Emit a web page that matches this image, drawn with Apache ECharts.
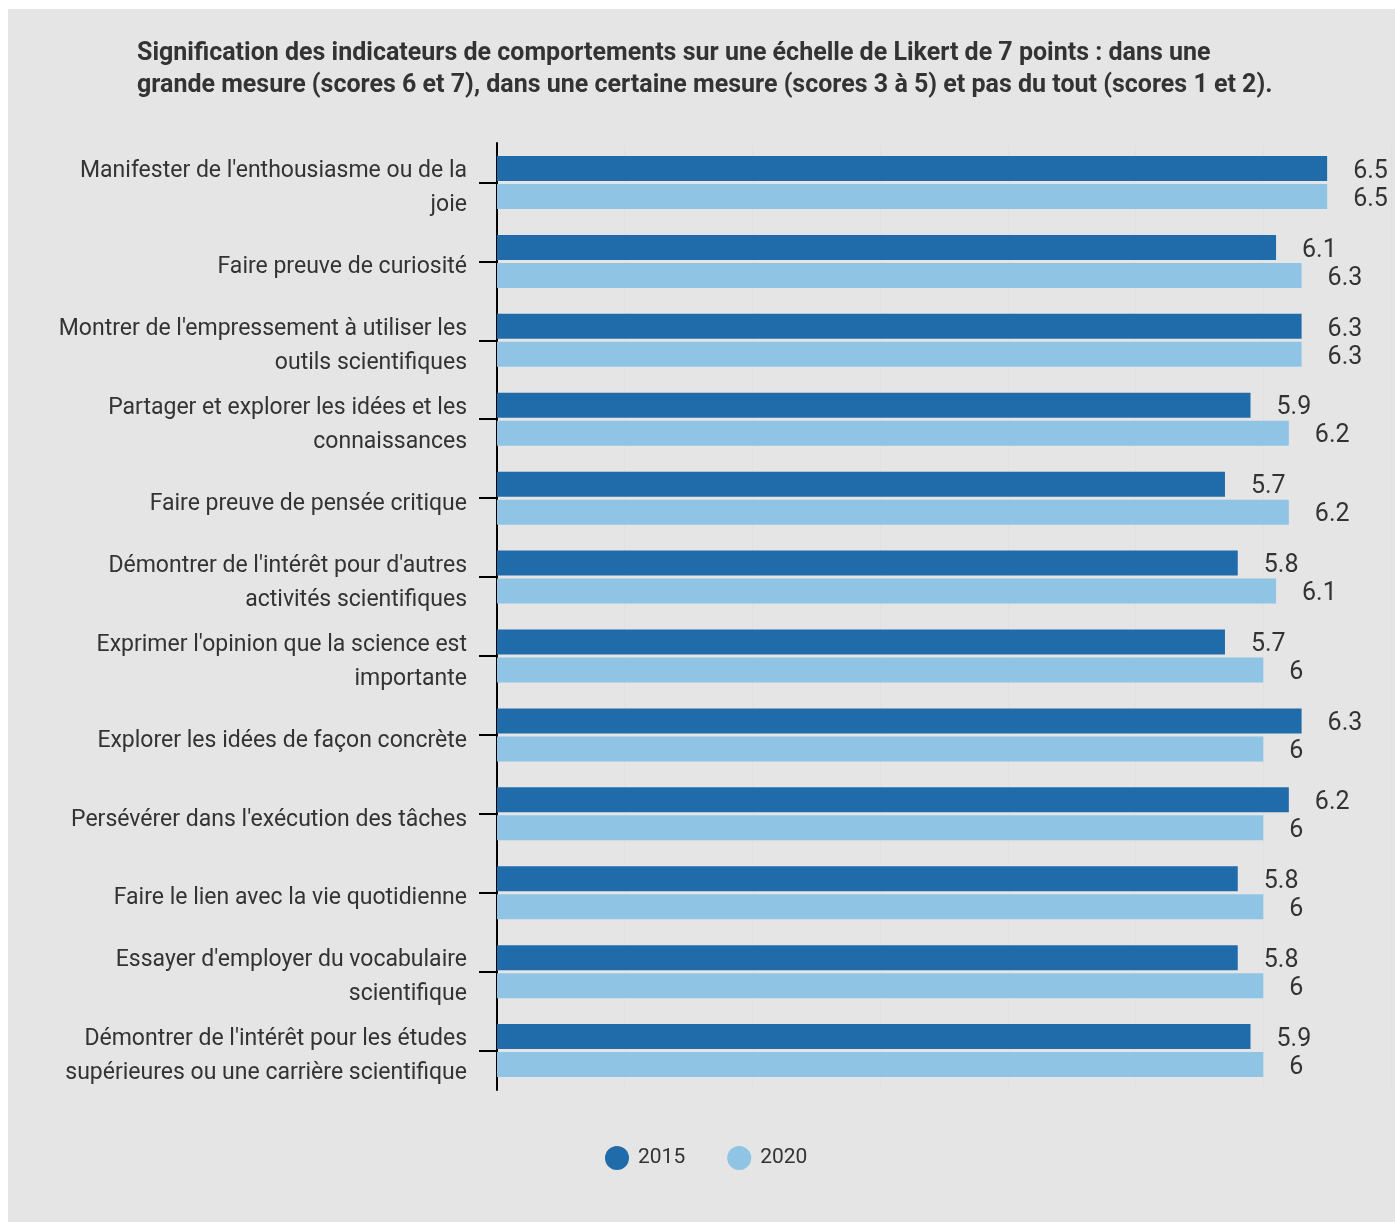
<!DOCTYPE html>
<html>
<head>
<meta charset="utf-8">
<script src="https://cdn.jsdelivr.net/npm/echarts@6/dist/echarts.min.js"></script>
<style>
html,body{margin:0;padding:0;background:#ffffff;}
#bg{position:absolute;left:8px;top:9px;width:1387px;height:1213px;background:#e5e5e5;}
#chart{position:absolute;left:0;top:0;width:1395px;height:1222px;}
</style>
</head>
<body>
<div id="bg"></div>
<div id="chart"></div>
<script>
const titleText = "Signification des indicateurs de comportements sur une échelle de Likert de 7 points : dans une\ngrande mesure (scores 6 et 7), dans une certaine mesure (scores 3 à 5) et pas du tout (scores 1 et 2).";
const categories = [
  "Manifester de l'enthousiasme ou de la\njoie",
  "Faire preuve de curiosité",
  "Montrer de l'empressement à utiliser les\noutils scientifiques",
  "Partager et explorer les idées et les\nconnaissances",
  "Faire preuve de pensée critique",
  "Démontrer de l'intérêt pour d'autres\nactivités scientifiques",
  "Exprimer l'opinion que la science est\nimportante",
  "Explorer les idées de façon concrète",
  "Persévérer dans l'exécution des tâches",
  "Faire le lien avec la vie quotidienne",
  "Essayer d'employer du vocabulaire\nscientifique",
  "Démontrer de l'intérêt pour les études\nsupérieures ou une carrière scientifique"
];
const seriesNames = ["2015", "2020"];
const values2015 = [6.5, 6.1, 6.3, 5.9, 5.7, 5.8, 5.7, 6.3, 6.2, 5.8, 5.8, 5.9];
const values2020 = [6.5, 6.3, 6.3, 6.2, 6.2, 6.1, 6, 6, 6, 6, 6, 6];
const xTicks = [0, 1, 2, 3, 4, 5, 6, 7];

const FONT = 'Roboto';
const chart = echarts.init(document.getElementById('chart'), null, {renderer: 'canvas'});
const labelStyle = {
  show: true, position: 'right', distance: 26,
  fontFamily: FONT, fontSize: 25, color: '#333333', offset: [0, 3]
};
chart.setOption({
  backgroundColor: 'transparent',
  animation: false,
  title: {
    text: titleText, left: 132, top: 33,
    textStyle: {fontFamily: FONT, fontWeight: 'bold', fontSize: 25, lineHeight: 32, color: '#333333'}
  },
  legend: {
    data: seriesNames, left: 600, top: 1141, icon: 'circle',
    itemWidth: 24, itemHeight: 24, itemGap: 42,
    textStyle: {fontFamily: FONT, fontSize: 21, color: '#333333', padding: [0, 0, 0, 4]}
  },
  grid: {left: 497, right: 4, top: 143, bottom: 132, containLabel: false},
  xAxis: {
    type: 'value', min: xTicks[0], max: xTicks[xTicks.length - 1], interval: 1,
    axisLine: {show: false}, axisTick: {show: false}, axisLabel: {show: false},
    splitLine: {show: true, lineStyle: {color: '#e0e0e0', width: 1}}
  },
  yAxis: {
    type: 'category', data: categories, inverse: true,
    axisLine: {show: true, lineStyle: {color: '#000000', width: 2}},
    axisTick: {show: true, alignWithLabel: true, length: 18, lineStyle: {color: '#000000', width: 2}},
    axisLabel: {
      interval: 0, showMinLabel: true, showMaxLabel: true, hideOverlap: false,
      fontFamily: FONT, fontSize: 23, lineHeight: 34, color: '#333333', margin: 30, align: 'right',
      formatter: function (v) { return '{s| }\n' + v; },
      rich: {s: {fontSize: 1, lineHeight: 12}}
    }
  },
  series: [
    {name: seriesNames[0], type: 'bar', data: values2015, barWidth: 25, barGap: '12%',
     itemStyle: {color: '#206ba9'}, label: labelStyle},
    {name: seriesNames[1], type: 'bar', data: values2020, barWidth: 25, barGap: '12%',
     itemStyle: {color: '#8fc4e5'}, label: labelStyle}
  ]
});
</script>
</body>
</html>
